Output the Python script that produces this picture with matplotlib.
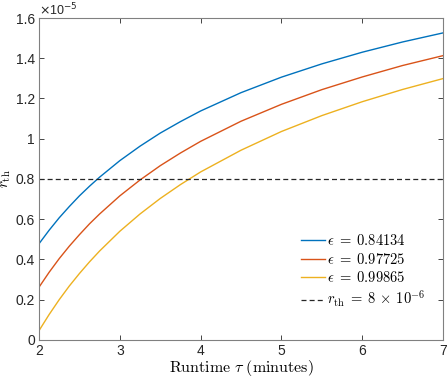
import matplotlib
matplotlib.use('Agg')
import matplotlib.pyplot as plt
from matplotlib.ticker import FuncFormatter

plt.rcParams['mathtext.fontset'] = 'cm'
plt.rcParams['font.family'] = ['Liberation Sans', 'DejaVu Sans']

# runtime tau (minutes) and r_th values (in units of 1e-5)
tau = [2.0, 2.125, 2.25, 2.375, 2.5, 2.625, 2.75, 3.0, 3.25, 3.5, 3.75,
       4.0, 4.5, 5.0, 5.5, 6.0, 6.5, 7.0]
r_eps1 = [0.478, 0.545, 0.607, 0.663, 0.716, 0.764, 0.809, 0.891, 0.963, 1.028,
          1.085, 1.138, 1.229, 1.306, 1.372, 1.430, 1.481, 1.526]
r_eps2 = [0.262, 0.336, 0.404, 0.466, 0.523, 0.577, 0.626, 0.716, 0.795, 0.866,
          0.929, 0.987, 1.087, 1.171, 1.244, 1.307, 1.364, 1.413]
r_eps3 = [0.046, 0.126, 0.200, 0.268, 0.330, 0.388, 0.442, 0.540, 0.626, 0.703,
          0.772, 0.835, 0.943, 1.036, 1.115, 1.184, 1.245, 1.299]
eps_labels = ['0.84134', '0.97725', '0.99865']
r_threshold = 0.8

xticks = [2, 3, 4, 5, 6, 7]
yticks = [0, 0.2, 0.4, 0.6, 0.8, 1.0, 1.2, 1.4, 1.6]

colors = ['#0072BD', '#D95319', '#EDB120']

fig = plt.figure(figsize=(4.48, 3.79), dpi=100)
ax = fig.add_axes([0.087, 0.103, 0.902, 0.8495])

for r, lab, c in zip([r_eps1, r_eps2, r_eps3], eps_labels, colors):
    ax.plot(tau, r, color=c, lw=1.0, label=r'$\epsilon\;=\;%s$' % lab)
ax.axhline(r_threshold, color='#262626', lw=0.9, ls=(0, (4, 2.5)),
           label=r'$r_{\mathrm{th}}\;=\;8\,\times\,10^{-6}$')

ax.set_xlim(2, 7)
ax.set_ylim(0, 1.6)
ax.set_xticks(xticks)
ax.set_yticks(yticks)
ax.yaxis.set_major_formatter(FuncFormatter(lambda v, p: '%g' % v))
ax.tick_params(direction='in', top=True, right=True, length=3.5, width=0.6,
               color='#262626', labelcolor='#262626', labelsize=10, pad=3)
for s in ax.spines.values():
    s.set_color('#808080')
    s.set_linewidth(0.8)

ax.set_xlabel(r'$\mathrm{Runtime}\ \tau\ \mathrm{(minutes)}$', fontsize=11.5, labelpad=0)
ax.set_ylabel(r'$r_{\mathrm{th}}$', fontsize=11, labelpad=2)

ax.text(0.0, 1.0, r'$\times$10$^{-5}$', transform=ax.transAxes, fontsize=9,
        color='#262626', math_fontfamily='dejavusans', va='bottom', ha='left')

ax.legend(loc='upper left', bbox_to_anchor=(0.635, 0.35), frameon=False,
          fontsize=10.5, handlelength=1.6, handletextpad=0.15, labelspacing=0.25,
          borderaxespad=0)

fig.savefig('out.png', dpi=100)
